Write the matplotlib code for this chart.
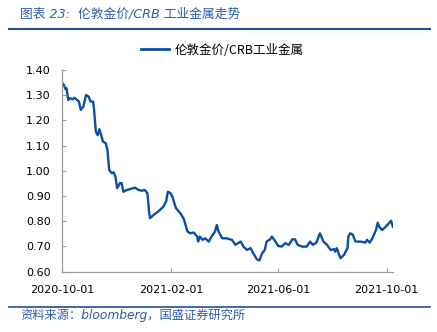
import pandas as pd
import matplotlib.pyplot as plt
import matplotlib.dates as mdates
from matplotlib.lines import Line2D

plt.rcParams['font.family'] = ['DejaVu Sans', 'Noto Sans CJK SC']

dates = [
    "2020-10-01", "2020-10-03", "2020-10-05", "2020-10-06", "2020-10-08", "2020-10-10",
    "2020-10-13", "2020-10-15", "2020-10-18", "2020-10-20", "2020-10-22", "2020-10-25",
    "2020-10-28", "2020-10-31", "2020-11-02", "2020-11-05", "2020-11-06", "2020-11-08",
    "2020-11-10", "2020-11-12", "2020-11-14", "2020-11-16", "2020-11-19", "2020-11-21",
    "2020-11-23", "2020-11-26", "2020-11-28", "2020-11-30", "2020-12-02", "2020-12-05",
    "2020-12-07", "2020-12-09", "2020-12-13", "2020-12-16", "2020-12-20", "2020-12-22",
    "2020-12-26", "2020-12-30", "2021-01-02", "2021-01-05", "2021-01-07", "2021-01-08",
    "2021-01-12", "2021-01-17", "2021-01-23", "2021-01-26", "2021-01-28", "2021-01-31",
    "2021-02-02", "2021-02-06", "2021-02-11", "2021-02-15", "2021-02-19", "2021-02-22",
    "2021-02-26", "2021-03-02", "2021-03-03", "2021-03-05", "2021-03-08", "2021-03-11",
    "2021-03-15", "2021-03-18", "2021-03-22", "2021-03-24", "2021-03-26", "2021-03-30",
    "2021-04-04", "2021-04-10", "2021-04-14", "2021-04-17", "2021-04-20", "2021-04-23",
    "2021-04-27", "2021-05-01", "2021-05-04", "2021-05-08", "2021-05-11", "2021-05-14",
    "2021-05-17", "2021-05-19", "2021-05-23", "2021-05-25", "2021-05-29", "2021-06-01",
    "2021-06-05", "2021-06-09", "2021-06-13", "2021-06-17", "2021-06-20", "2021-06-23",
    "2021-06-28", "2021-07-03", "2021-07-07", "2021-07-10", "2021-07-14", "2021-07-18",
    "2021-07-22", "2021-07-26", "2021-07-30", "2021-08-03", "2021-08-04", "2021-08-06",
    "2021-08-10", "2021-08-14", "2021-08-18", "2021-08-19", "2021-08-21", "2021-08-24",
    "2021-08-27", "2021-09-02", "2021-09-07", "2021-09-09", "2021-09-12", "2021-09-15",
    "2021-09-19", "2021-09-21", "2021-09-23", "2021-09-26", "2021-09-30", "2021-10-04",
    "2021-10-06", "2021-10-08",
]
ratio = [
    1.350, 1.341, 1.324, 1.328, 1.281, 1.288,
    1.284, 1.290, 1.281, 1.275, 1.242, 1.255,
    1.301, 1.294, 1.275, 1.275, 1.242, 1.156,
    1.142, 1.165, 1.142, 1.116, 1.110, 1.083,
    1.004, 0.990, 0.994, 0.977, 0.931, 0.951,
    0.951, 0.917, 0.924, 0.927, 0.931, 0.933,
    0.924, 0.921, 0.924, 0.911, 0.832, 0.812,
    0.825, 0.838, 0.858, 0.878, 0.917, 0.911,
    0.898, 0.852, 0.832, 0.808, 0.759, 0.752,
    0.755, 0.739, 0.719, 0.739, 0.726, 0.732,
    0.719, 0.739, 0.759, 0.785, 0.759, 0.732,
    0.732, 0.726, 0.706, 0.713, 0.719, 0.699,
    0.686, 0.693, 0.673, 0.649, 0.644, 0.673,
    0.686, 0.719, 0.728, 0.739, 0.719, 0.702,
    0.699, 0.713, 0.706, 0.728, 0.728, 0.706,
    0.699, 0.699, 0.719, 0.706, 0.715, 0.752,
    0.719, 0.706, 0.686, 0.689, 0.679, 0.693,
    0.653, 0.666, 0.693, 0.739, 0.752, 0.746,
    0.719, 0.719, 0.715, 0.726, 0.715, 0.732,
    0.765, 0.794, 0.776, 0.765, 0.778, 0.794,
    0.802, 0.778,
]
x_ticks = ["2020-10-01", "2021-02-01", "2021-06-01", "2021-10-01"]
y_ticks = [0.60, 0.70, 0.80, 0.90, 1.00, 1.10, 1.20, 1.30, 1.40]

title = "图表 23:  伦敦金价/CRB 工业金属走势"
series_name = "伦敦金价/CRB工业金属"
source = "资料来源：bloomberg，国盛证券研究所"

blue = "#0B4EA2"
head_blue = "#2E5CA8"

x = pd.to_datetime(dates)

fig = plt.figure(figsize=(4.37, 3.32), dpi=100)
ax = fig.add_axes([0.142, 0.182, 0.757, 0.607])
ax.plot(x, ratio, color=blue, lw=1.7)

ax.set_xlim(x[0], x[-1])
ax.set_ylim(0.6, 1.4)
ax.set_xticks(pd.to_datetime(x_ticks))
ax.xaxis.set_major_formatter(mdates.DateFormatter("%Y-%m-%d"))
ax.set_yticks(y_ticks)
ax.set_yticklabels([f"{v:.2f}" for v in y_ticks])
ax.tick_params(direction="in", length=3, width=0.8, color="#999999",
               labelsize=8, labelcolor="black")
ax.tick_params(axis="x", pad=10)
ax.tick_params(axis="y", pad=8)
for side in ["top", "right"]:
    ax.spines[side].set_visible(False)
for side in ["left", "bottom"]:
    ax.spines[side].set_color("#999999")
    ax.spines[side].set_linewidth(0.9)

# legend above the plot
handle = Line2D([], [], color=blue, lw=2)
fig.legend([handle], [series_name], loc="center", bbox_to_anchor=(0.508, 0.849),
           frameon=False, handlelength=2.3, handletextpad=0.4,
           prop={"family": ["Noto Sans CJK SC"], "size": 9})

# heading and footer with rules
fig.text(0.046, 0.958, title, color=head_blue, fontsize=9.2, style="italic",
         va="center", ha="left")
fig.add_artist(Line2D([0.02, 0.985], [0.913, 0.913], transform=fig.transFigure,
                      color="#1F4E9A", lw=1.5))
fig.add_artist(Line2D([0.02, 0.985], [0.076, 0.076], transform=fig.transFigure,
                      color="#1F4E9A", lw=1.2))
fig.text(0.046, 0.051, source, color=head_blue, fontsize=8.8, style="italic",
         va="center", ha="left")

fig.savefig("out.png", dpi=100)
